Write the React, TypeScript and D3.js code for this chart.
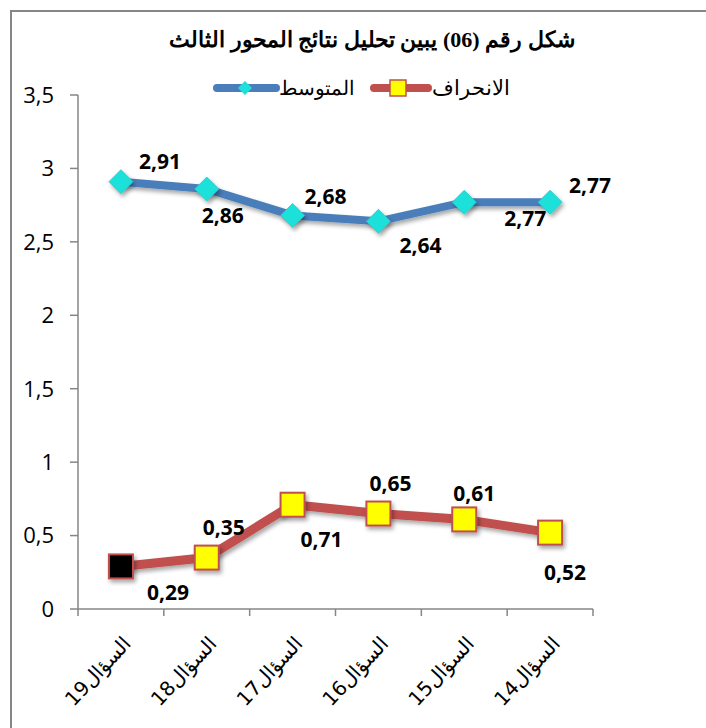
import React from "react";
import * as d3 from "d3";

const categories = ["السؤال19", "السؤال18", "السؤال17", "السؤال16", "السؤال15", "السؤال14"];
const meanValues = [2.91, 2.86, 2.68, 2.64, 2.77, 2.77];
const stdValues = [0.29, 0.35, 0.71, 0.65, 0.61, 0.52];
const yTicks = [0, 0.5, 1, 1.5, 2, 2.5, 3, 3.5];
const title = "شكل رقم (06) يبين تحليل نتائج المحور الثالث";
const meanName = "المتوسط";
const stdName = "الانحراف";

// label placement offsets (layout only)
const meanLabelOffsets: [number, number][] = [[39, -20], [16, 26], [33, -19], [42, 24], [61, 16], [40, -17]];
const stdLabelOffsets: [number, number][] = [[47, 26], [17, -30], [29, 35], [12, -30], [10, -26], [15, 40]];

const W = 706, H = 728;
const axisColor = "#868686";
const blue = "#4a7ebb";
const cyan = "#1fe0da";
const red = "#c0504d";
const yellow = "#ffff00";

const fmt = (v: number) => String(v).replace(".", ",");

export default function App() {
  const x = d3.scaleBand<string>().domain(categories).range([78, 593]);
  const y = d3.scaleLinear().domain([0, 3.5]).range([609, 95]);
  const cx = (c: string) => (x(c) as number) + x.bandwidth() / 2;
  const line = d3.line<number>().x((_, i) => cx(categories[i])).y((v) => y(v));
  const tickXs = [...categories.map((c) => x(c) as number), 593];
  const labelFont = "'Open Sans', 'Liberation Sans', sans-serif";
  const serif = "'Liberation Serif', 'DejaVu Serif', serif";

  return (
    <div style={{ position: "fixed", left: 0, top: 0, width: W, height: H, background: "#fff" }}>
      <svg width={W} height={H} style={{ display: "block" }}>
        <defs>
          <filter id="sh" x="-50%" y="-50%" width="200%" height="200%">
            <feDropShadow dx="2" dy="3" stdDeviation="2" floodColor="#000" floodOpacity="0.35" />
          </filter>
        </defs>
        <rect x={0} y={0} width={W} height={H} fill="#fff" />
        <rect x={11} y={11} width={W + 20} height={H + 20} fill="none" stroke={axisColor} strokeWidth={2} />

        {/* title */}
        <text x={372} y={47} textAnchor="middle" fontFamily={serif} fontWeight="bold" fontSize={22} fill="#000">
          {title}
        </text>

        {/* legend */}
        <g>
          <line x1={374} x2={428} y1={88} y2={88} stroke={red} strokeWidth={8} strokeLinecap="round" />
          <rect x={390} y={80} width={16} height={16} fill={yellow} stroke={red} strokeWidth={1.5} />
          <text x={432} y={95} fontFamily={serif} fontSize={21} fill="#000">{stdName}</text>
          <line x1={217} x2={276} y1={88} y2={88} stroke={blue} strokeWidth={8} strokeLinecap="round" />
          <path d={`M245,81 L252,88 L245,95 L238,88 Z`} fill={cyan} />
          <text x={279} y={95} fontFamily={serif} fontSize={20} fill="#000">{meanName}</text>
        </g>

        {/* y axis */}
        <line x1={78} x2={78} y1={y(3.5)} y2={y(0)} stroke={axisColor} strokeWidth={1.5} />
        {yTicks.map((t) => (
          <g key={t}>
            <line x1={70} x2={78} y1={y(t)} y2={y(t)} stroke={axisColor} strokeWidth={1.5} />
            <text x={54} y={y(t)} dy="0.36em" textAnchor="end" fontFamily={labelFont} fontSize={22} fill="#000">
              {fmt(t)}
            </text>
          </g>
        ))}

        {/* x axis */}
        <line x1={78} x2={593} y1={y(0)} y2={y(0)} stroke={axisColor} strokeWidth={1.5} />
        {tickXs.map((tx, i) => (
          <line key={i} x1={tx} x2={tx} y1={y(0)} y2={y(0) + 7} stroke={axisColor} strokeWidth={1.5} />
        ))}
        {categories.map((c) => (
          <text
            key={c}
            transform={`translate(${cx(c) + 6},${640}) rotate(-47)`}
            direction="rtl"
            textAnchor="start"
            dominantBaseline="central"
            fontFamily="'DejaVu Sans', sans-serif"
            fontSize={20}
            fill="#000"
          >
            {c}
          </text>
        ))}

        {/* mean series */}
        <path d={line(meanValues) || ""} fill="none" stroke={blue} strokeWidth={8} filter="url(#sh)" />
        {meanValues.map((v, i) => {
          const px = cx(categories[i]);
          const py = y(v);
          const s = 12;
          return (
            <path key={i} d={`M${px},${py - s} L${px + s},${py} L${px},${py + s} L${px - s},${py} Z`} fill={cyan} stroke="#2ac7c7" strokeWidth={0.8} filter="url(#sh)" />
          );
        })}

        {/* std series */}
        <path d={line(stdValues) || ""} fill="none" stroke={red} strokeWidth={9} filter="url(#sh)" />
        {stdValues.map((v, i) => {
          const px = cx(categories[i]);
          const py = y(v);
          const s = 24;
          return (
            <rect key={i} x={px - s / 2} y={py - s / 2} width={s} height={s} fill={i === 0 ? "#000" : yellow} stroke={red} strokeWidth={2} filter="url(#sh)" />
          );
        })}

        {/* data labels */}
        {meanValues.map((v, i) => (
          <text key={"m" + i} x={cx(categories[i]) + meanLabelOffsets[i][0]} y={y(v) + meanLabelOffsets[i][1]} dy="0.36em" textAnchor="middle" fontFamily={labelFont} fontWeight="bold" fontSize={21} fill="#000">
            {fmt(v)}
          </text>
        ))}
        {stdValues.map((v, i) => (
          <text key={"s" + i} x={cx(categories[i]) + stdLabelOffsets[i][0]} y={y(v) + stdLabelOffsets[i][1]} dy="0.36em" textAnchor="middle" fontFamily={labelFont} fontWeight="bold" fontSize={21} fill="#000">
            {fmt(v)}
          </text>
        ))}
      </svg>
    </div>
  );
}
